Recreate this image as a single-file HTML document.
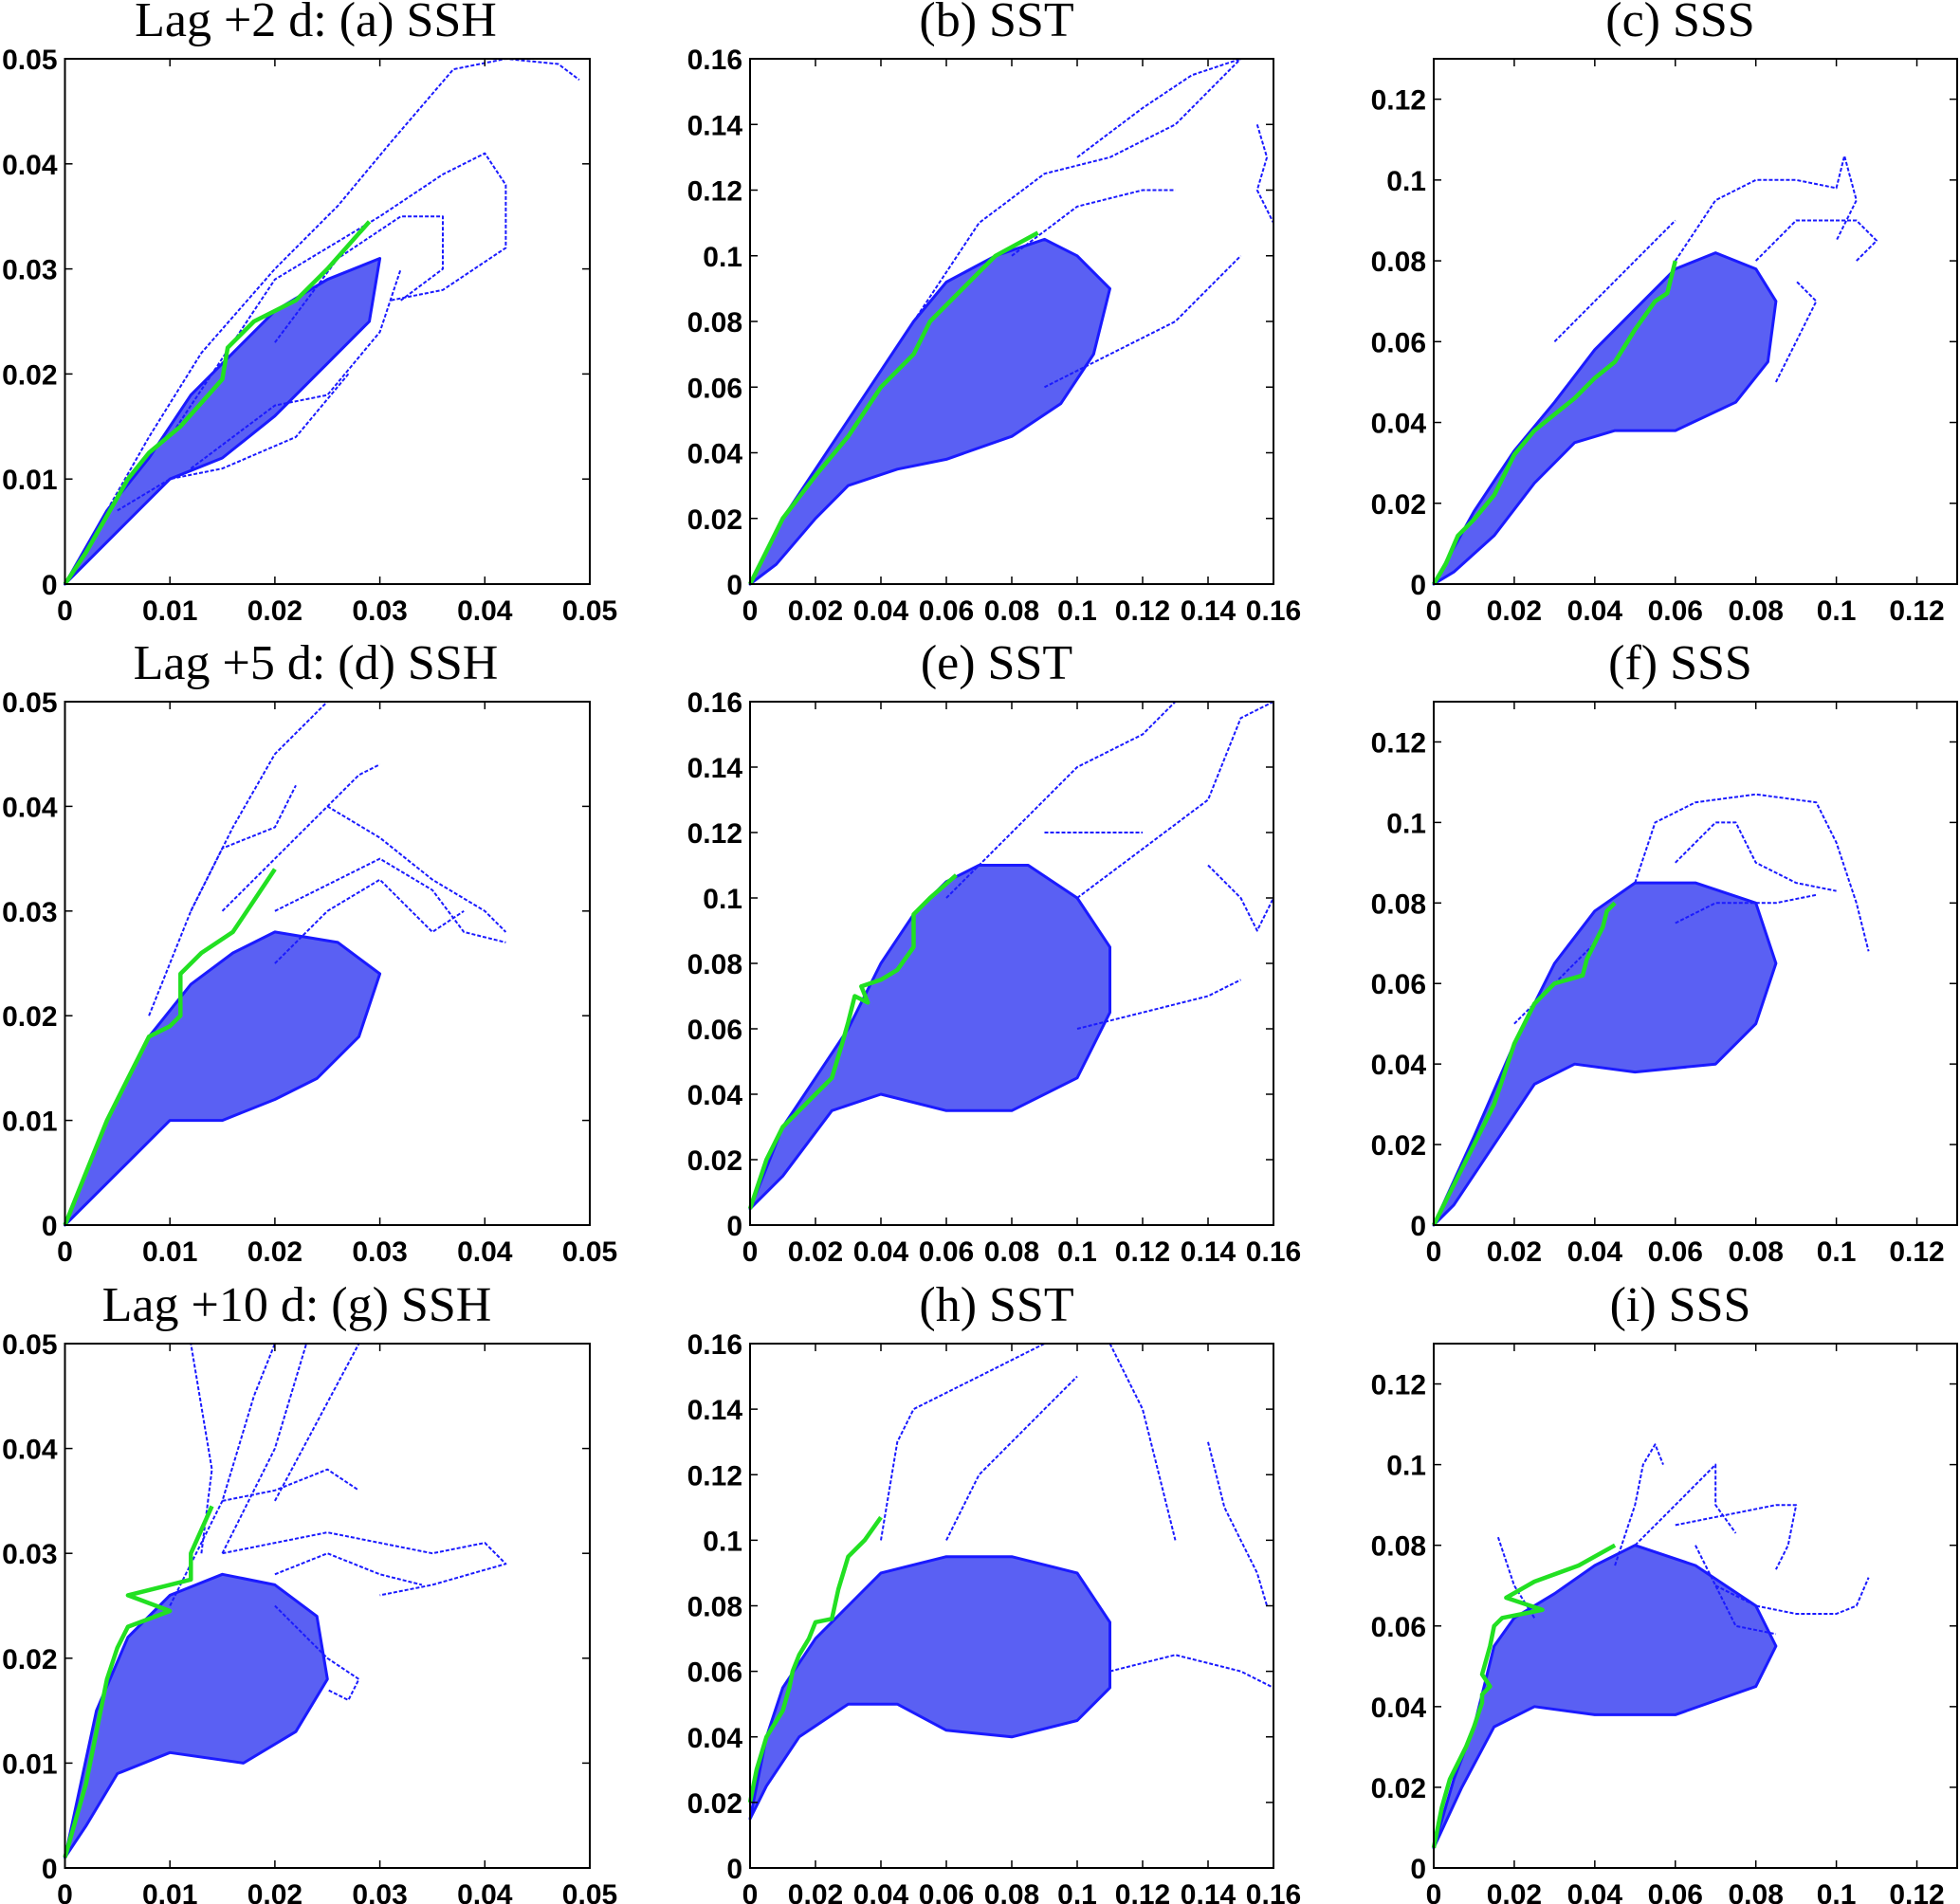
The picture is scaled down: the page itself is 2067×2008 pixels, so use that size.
<!DOCTYPE html>
<html><head><meta charset="utf-8"><style>
html,body{margin:0;padding:0;background:#fff;}
svg{display:block;}
.tk{font-family:"Liberation Sans",sans-serif;font-weight:bold;font-size:30px;fill:#000;}
.tt{font-family:"Liberation Serif",serif;font-size:52px;fill:#000;}
</style></head><body>
<svg id="fig" width="2067" height="2008" viewBox="0 0 2067 2008" xmlns="http://www.w3.org/2000/svg"></svg>
<script>
// ---- panel data (axis units) ----
const titles = ["Lag +2 d:  (a) SSH","(b) SST","(c) SSS","Lag +5 d:  (d) SSH","(e) SST","(f) SSS","Lag +10 d:  (g) SSH","(h) SST","(i) SSS"];
const titleCx = [333,1051,1772,333,1051,1772,313,1051,1772];
const axMax = [0.05,0.16,0.13];
const tickVals = [[0,0.01,0.02,0.03,0.04,0.05],[0,0.02,0.04,0.06,0.08,0.1,0.12,0.14,0.16],[0,0.02,0.04,0.06,0.08,0.1,0.12]];
const tickLabels = [["0","0.01","0.02","0.03","0.04","0.05"],["0","0.02","0.04","0.06","0.08","0.1","0.12","0.14","0.16"],["0","0.02","0.04","0.06","0.08","0.1","0.12"]];

const greenA = [[0,0],[0.002,0.003],[0.004,0.0065],[0.006,0.01],[0.008,0.0125],[0.011,0.015],[0.015,0.0195],[0.0155,0.0225],[0.018,0.025],[0.022,0.027],[0.025,0.03],[0.029,0.0345]];
const greenB = [[0,0],[0.005,0.01],[0.01,0.02],[0.02,0.033],[0.03,0.045],[0.04,0.06],[0.05,0.07],[0.055,0.08],[0.065,0.09],[0.07,0.095],[0.075,0.1],[0.088,0.107]];
const greenC = [[0,0],[0.003,0.005],[0.006,0.012],[0.01,0.016],[0.015,0.022],[0.02,0.032],[0.025,0.038],[0.03,0.042],[0.035,0.046],[0.04,0.051],[0.045,0.055],[0.05,0.063],[0.055,0.07],[0.058,0.072],[0.06,0.08]];
const greenD = [[0,0],[0.002,0.005],[0.004,0.01],[0.006,0.014],[0.007,0.016],[0.008,0.018],[0.01,0.019],[0.011,0.02],[0.011,0.024],[0.013,0.026],[0.016,0.028],[0.018,0.031],[0.02,0.034]];
const greenE = [[0,0.005],[0.005,0.02],[0.01,0.03],[0.015,0.035],[0.02,0.04],[0.025,0.045],[0.028,0.055],[0.03,0.062],[0.032,0.07],[0.036,0.068],[0.034,0.073],[0.04,0.075],[0.045,0.078],[0.05,0.085],[0.05,0.095],[0.055,0.1],[0.063,0.107]];
const greenF = [[0,0],[0.005,0.01],[0.01,0.02],[0.015,0.03],[0.02,0.045],[0.025,0.055],[0.03,0.06],[0.037,0.062],[0.038,0.066],[0.04,0.07],[0.042,0.074],[0.043,0.078],[0.045,0.08]];
const greenG = [[0,0.001],[0.002,0.008],[0.003,0.013],[0.004,0.018],[0.005,0.021],[0.006,0.023],[0.01,0.0245],[0.006,0.026],[0.01,0.027],[0.012,0.0275],[0.012,0.03],[0.014,0.0345]];
const greenH = [[0,0.02],[0.002,0.03],[0.005,0.04],[0.01,0.048],[0.012,0.055],[0.013,0.06],[0.015,0.065],[0.018,0.07],[0.02,0.075],[0.025,0.076],[0.027,0.085],[0.03,0.095],[0.035,0.1],[0.04,0.107]];
const greenI = [[0,0.005],[0.002,0.015],[0.004,0.022],[0.008,0.03],[0.01,0.035],[0.012,0.041],[0.012,0.043],[0.014,0.045],[0.012,0.048],[0.014,0.055],[0.015,0.06],[0.017,0.062],[0.027,0.064],[0.018,0.067],[0.025,0.071],[0.036,0.075],[0.045,0.08]];

const cloudA = [[0,0],[0.004,0.007],[0.008,0.012],[0.012,0.018],[0.016,0.022],[0.02,0.026],[0.025,0.029],[0.03,0.031],[0.029,0.025],[0.025,0.021],[0.02,0.016],[0.015,0.012],[0.01,0.01],[0.006,0.006],[0.002,0.002]];
const cloudB = [[0,0],[0.01,0.02],[0.02,0.035],[0.03,0.05],[0.04,0.065],[0.05,0.08],[0.06,0.092],[0.075,0.1],[0.09,0.105],[0.1,0.1],[0.11,0.09],[0.105,0.07],[0.095,0.055],[0.08,0.045],[0.06,0.038],[0.045,0.035],[0.03,0.03],[0.02,0.02],[0.008,0.006]];
const cloudC = [[0,0],[0.01,0.018],[0.02,0.033],[0.03,0.045],[0.04,0.058],[0.05,0.068],[0.06,0.078],[0.07,0.082],[0.08,0.078],[0.085,0.07],[0.083,0.055],[0.075,0.045],[0.06,0.038],[0.045,0.038],[0.035,0.035],[0.025,0.025],[0.015,0.012],[0.005,0.003]];
const cloudD = [[0,0],[0.004,0.01],[0.008,0.018],[0.012,0.023],[0.016,0.026],[0.02,0.028],[0.026,0.027],[0.03,0.024],[0.028,0.018],[0.024,0.014],[0.02,0.012],[0.015,0.01],[0.01,0.01],[0.006,0.006],[0.002,0.002]];
const cloudE = [[0,0.005],[0.01,0.03],[0.02,0.045],[0.03,0.06],[0.04,0.08],[0.05,0.095],[0.06,0.105],[0.07,0.11],[0.085,0.11],[0.1,0.1],[0.11,0.085],[0.11,0.065],[0.1,0.045],[0.08,0.035],[0.06,0.035],[0.04,0.04],[0.025,0.035],[0.01,0.015]];
const cloudF = [[0,0],[0.01,0.022],[0.02,0.045],[0.03,0.065],[0.04,0.078],[0.05,0.085],[0.065,0.085],[0.08,0.08],[0.085,0.065],[0.08,0.05],[0.07,0.04],[0.05,0.038],[0.035,0.04],[0.025,0.035],[0.015,0.02],[0.005,0.005]];
const cloudG = [[0,0.001],[0.003,0.015],[0.006,0.022],[0.01,0.026],[0.015,0.028],[0.02,0.027],[0.024,0.024],[0.025,0.018],[0.022,0.013],[0.017,0.01],[0.01,0.011],[0.005,0.009],[0.002,0.004]];
const cloudH = [[0,0.015],[0.005,0.04],[0.01,0.055],[0.02,0.07],[0.03,0.08],[0.04,0.09],[0.06,0.095],[0.08,0.095],[0.1,0.09],[0.11,0.075],[0.11,0.055],[0.1,0.045],[0.08,0.04],[0.06,0.042],[0.045,0.05],[0.03,0.05],[0.015,0.04],[0.005,0.025]];
const cloudI = [[0,0.005],[0.005,0.022],[0.01,0.035],[0.015,0.055],[0.02,0.062],[0.03,0.068],[0.04,0.075],[0.05,0.08],[0.065,0.075],[0.08,0.065],[0.085,0.055],[0.08,0.045],[0.06,0.038],[0.04,0.038],[0.025,0.04],[0.015,0.035],[0.007,0.02]];

const trajA = [[[0,0],[0.008,0.014],[0.013,0.022],[0.02,0.03],[0.026,0.036],[0.031,0.042],[0.037,0.049],[0.042,0.05],[0.047,0.0495],[0.049,0.048]],[[0.01,0.014],[0.02,0.029],[0.03,0.035],[0.036,0.039],[0.04,0.041],[0.042,0.038],[0.042,0.032],[0.036,0.028],[0.031,0.027]],[[0.02,0.023],[0.026,0.031],[0.032,0.035],[0.036,0.035],[0.036,0.03],[0.032,0.027]],[[0.012,0.011],[0.02,0.017],[0.025,0.018],[0.03,0.024],[0.032,0.03]],[[0.005,0.007],[0.01,0.01],[0.015,0.011],[0.022,0.014],[0.027,0.02]]];
const trajB = [[[0.05,0.08],[0.07,0.11],[0.09,0.125],[0.11,0.13],[0.13,0.14],[0.15,0.16]],[[0.08,0.1],[0.1,0.115],[0.12,0.12],[0.13,0.12]],[[0.09,0.06],[0.11,0.07],[0.13,0.08],[0.14,0.09],[0.15,0.1]],[[0.1,0.13],[0.12,0.145],[0.135,0.155],[0.15,0.16]],[[0.155,0.14],[0.158,0.13],[0.155,0.12],[0.16,0.11]]];
const trajC = [[[0.06,0.08],[0.07,0.095],[0.08,0.1],[0.09,0.1],[0.1,0.098],[0.102,0.106],[0.105,0.095],[0.1,0.085]],[[0.08,0.08],[0.09,0.09],[0.105,0.09],[0.11,0.085],[0.105,0.08]],[[0.03,0.06],[0.04,0.07],[0.05,0.08],[0.06,0.09]],[[0.085,0.05],[0.09,0.06],[0.095,0.07],[0.09,0.075]]];
const trajD = [[[0.008,0.02],[0.012,0.03],[0.016,0.038],[0.02,0.045],[0.025,0.05],[0.03,0.05],[0.04,0.05],[0.05,0.05]],[[0.015,0.03],[0.02,0.035],[0.025,0.04],[0.028,0.043],[0.03,0.044]],[[0.02,0.03],[0.03,0.035],[0.035,0.032],[0.038,0.028],[0.042,0.027]],[[0.02,0.025],[0.025,0.03],[0.03,0.033],[0.035,0.028],[0.038,0.03]],[[0.025,0.04],[0.03,0.037],[0.035,0.033],[0.04,0.03],[0.042,0.028]],[[0.012,0.03],[0.015,0.036],[0.02,0.038],[0.022,0.042]]];
const trajE = [[[0.06,0.1],[0.08,0.12],[0.1,0.14],[0.12,0.15],[0.13,0.16]],[[0.1,0.1],[0.12,0.115],[0.14,0.13],[0.15,0.155],[0.16,0.16]],[[0.1,0.06],[0.12,0.065],[0.14,0.07],[0.15,0.075]],[[0.14,0.11],[0.15,0.1],[0.155,0.09],[0.16,0.1]],[[0.09,0.12],[0.1,0.12],[0.12,0.12]]];
const trajF = [[[0.05,0.085],[0.055,0.1],[0.065,0.105],[0.08,0.107],[0.095,0.105],[0.1,0.095],[0.105,0.08],[0.108,0.068]],[[0.06,0.09],[0.07,0.1],[0.075,0.1],[0.08,0.09],[0.09,0.085],[0.1,0.083]],[[0.06,0.075],[0.07,0.08],[0.085,0.08],[0.095,0.082]],[[0.02,0.05],[0.03,0.06],[0.04,0.07]]];
const trajG = [[[0.01,0.025],[0.015,0.035],[0.018,0.045],[0.02,0.05]],[[0.015,0.03],[0.02,0.04],[0.023,0.05]],[[0.015,0.03],[0.025,0.032],[0.035,0.03],[0.04,0.031],[0.042,0.029],[0.035,0.027],[0.03,0.026]],[[0.02,0.028],[0.025,0.03],[0.03,0.028],[0.034,0.027]],[[0.02,0.025],[0.025,0.02],[0.028,0.018],[0.027,0.016],[0.025,0.017]],[[0.013,0.03],[0.014,0.038],[0.013,0.044],[0.012,0.05]],[[0.02,0.035],[0.028,0.05]],[[0.015,0.035],[0.02,0.036],[0.025,0.038],[0.028,0.036]]];
const trajH = [[[0.04,0.1],[0.045,0.13],[0.05,0.14],[0.06,0.145],[0.07,0.15],[0.08,0.155],[0.09,0.16]],[[0.06,0.1],[0.07,0.12],[0.08,0.13],[0.09,0.14],[0.1,0.15]],[[0.11,0.16],[0.12,0.14],[0.125,0.12],[0.13,0.1]],[[0.14,0.13],[0.145,0.11],[0.15,0.1],[0.155,0.09],[0.158,0.08]],[[0.11,0.06],[0.13,0.065],[0.15,0.06],[0.16,0.055]]];
const trajI = [[[0.045,0.075],[0.05,0.09],[0.052,0.1],[0.055,0.105],[0.057,0.1]],[[0.05,0.08],[0.06,0.09],[0.07,0.1],[0.07,0.09],[0.075,0.083]],[[0.06,0.085],[0.075,0.088],[0.085,0.09],[0.09,0.09],[0.088,0.08],[0.085,0.074]],[[0.07,0.07],[0.08,0.065],[0.09,0.063],[0.1,0.063],[0.105,0.065],[0.108,0.072]],[[0.016,0.082],[0.02,0.07],[0.025,0.062]],[[0.065,0.08],[0.075,0.06],[0.085,0.058]]];

const greens = [greenA,greenB,greenC,greenD,greenE,greenF,greenG,greenH,greenI];
const clouds = [cloudA,cloudB,cloudC,cloudD,cloudE,cloudF,cloudG,cloudH,cloudI];
const trajs = [trajA,trajB,trajC,trajD,trajE,trajF,trajG,trajH,trajI];

// ---- layout ----
const colL=[68.5,791,1512], colR=[622,1343,2064];
const rowT=[62,740,1417], rowB=[616,1292,1970];
const NS="http://www.w3.org/2000/svg";
const svg=document.getElementById('fig');
function mk(tag,attrs,parent){const e=document.createElementNS(NS,tag);for(const k in attrs)e.setAttribute(k,attrs[k]);(parent||svg).appendChild(e);return e;}
const names="abcdefghi";
for(let p=0;p<9;p++){
  const c=p%3,r=Math.floor(p/3);
  const L=colL[c],R=colR[c],T=rowT[r],B=rowB[r],M=axMax[c];
  const sx=v=>L+(R-L)*v/M, sy=v=>B-(B-T)*v/M;
  const g=mk('g',{});
  
  
  const pts=arr=>arr.map(q=>sx(q[0]).toFixed(1)+','+sy(q[1]).toFixed(1)).join(' ');
  const cl=mk('polygon',{points:pts(clouds[p]),fill:'#1a22ee','fill-opacity':'0.72',stroke:'#1a1aff','stroke-width':'3','stroke-linejoin':'round'},g);
  
  
  trajs[p].forEach(t=>{
    const pl=mk('polyline',{points:pts(t),fill:'none',stroke:'#1a1aff','stroke-width':'2','stroke-dasharray':'4 2','stroke-linejoin':'round'},g);
    
    
  });
  const gl=mk('polyline',{points:pts(greens[p]),fill:'none',stroke:'#22e022','stroke-width':'4.5','stroke-linejoin':'round'},g);
  
  
  const fr=mk('rect',{x:L,y:T,width:R-L,height:B-T,fill:'none',stroke:'#000','stroke-width':'2'},g);
  
  
  tickVals[c].forEach((v,i)=>{
    const x=sx(v),y=sy(v);
    mk('line',{x1:x,y1:B,x2:x,y2:B-8,stroke:'#000','stroke-width':'1.5'},g);
    mk('line',{x1:x,y1:T,x2:x,y2:T+8,stroke:'#000','stroke-width':'1.5'},g);
    mk('line',{x1:L,y1:y,x2:L+8,y2:y,stroke:'#000','stroke-width':'1.5'},g);
    mk('line',{x1:R,y1:y,x2:R-8,y2:y,stroke:'#000','stroke-width':'1.5'},g);
    const xt=mk('text',{x:x,y:B+38,'text-anchor':'middle',class:'tk'},g);
    xt.textContent=tickLabels[c][i];
    
    
    const yt=mk('text',{x:L-8,y:y+11,'text-anchor':'end',class:'tk'},g);
    yt.textContent=tickLabels[c][i];
    
    
  });
  const tt=mk('text',{x:titleCx[p],y:T-24,'text-anchor':'middle',class:'tt'},g);
  tt.textContent=titles[p];
  
  
}
</script>
</body></html>
